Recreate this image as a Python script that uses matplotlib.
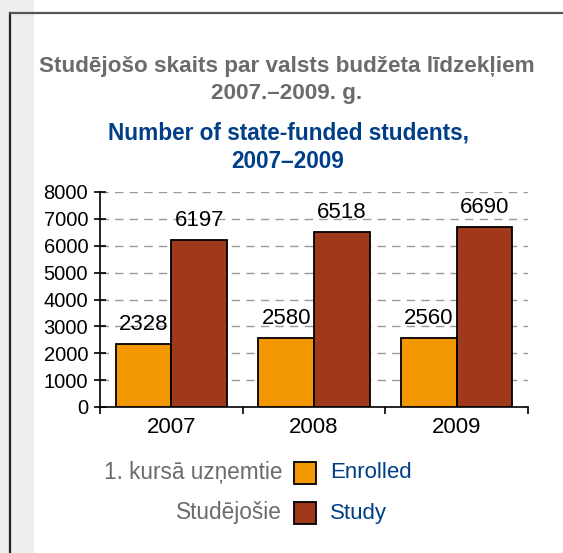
import numpy as np
import matplotlib.pyplot as plt
from matplotlib.patches import Rectangle

years = ["2007", "2008", "2009"]
enrolled = [2328, 2580, 2560]
study = [6197, 6518, 6690]
labels_lv = ["1. kursā uzņemtie", "Studējošie"]
labels_en = ["Enrolled", "Study"]

title_lv = "Studējošo skaits par valsts budžeta līdzekļiem\n2007.–2009. g."
title_en = "Number of state-funded students,\n2007–2009"

c_enr = "#f39800"
c_std = "#a0381c"
c_grey = "#6b6b6b"
c_blue = "#003f87"

plt.rcParams["font.family"] = ["Liberation Sans", "DejaVu Sans"]

fig = plt.figure(figsize=(5.63, 5.53), dpi=100)
W, H = 563, 553

# background strip and frame
fig.patches.append(Rectangle((0, 0), 34 / W, 1, transform=fig.transFigure,
                             facecolor="#efeeee", edgecolor="none", zorder=0))
fig.lines.append(plt.Line2D([9.5 / W, 9.5 / W], [0, 1 - 13 / H], transform=fig.transFigure,
                            color="#222222", lw=1.6))
fig.lines.append(plt.Line2D([9.5 / W, 1], [1 - 13 / H, 1 - 13 / H], transform=fig.transFigure,
                            color="#555555", lw=1.6))

ax = fig.add_axes([100 / W, 1 - 407 / H, 428 / W, 215 / H])
ax.set_facecolor("none")

x = np.arange(len(years))
w = 0.39
b1 = ax.bar(x - w / 2, enrolled, w, color=c_enr, edgecolor="black", lw=1.3, zorder=3)
b2 = ax.bar(x + w / 2, study, w, color=c_std, edgecolor="black", lw=1.3, zorder=3)

for bars, vals in [(b1, enrolled), (b2, study)]:
    for rect, v in zip(bars, vals):
        ax.annotate(str(v), (rect.get_x() + rect.get_width() / 2, v),
                    xytext=(0, 6.5), textcoords="offset points",
                    ha="center", va="bottom", fontsize=16)

ax.set_xlim(-0.5, 2.5)
ax.set_ylim(0, 8000)
ax.set_yticks(np.arange(0, 8001, 1000))
ax.tick_params(axis="y", labelsize=14.5, direction="inout", length=8, width=1.2, pad=4.5)
ax.set_xticks([-0.5, 0.5, 1.5, 2.5], minor=False)
ax.set_xticklabels([])
ax.set_xticks(x, minor=True)
ax.set_xticklabels(years, minor=True, fontsize=16)
ax.tick_params(axis="x", which="major", direction="out", length=5, width=1.2)
ax.tick_params(axis="x", which="minor", length=0, pad=7)

for s in ["top", "right"]:
    ax.spines[s].set_visible(False)
ax.spines["left"].set_linewidth(1.2)
ax.spines["bottom"].set_linewidth(1.2)
ax.yaxis.grid(True, linestyle=(0, (6, 4.5)), color="#999999", lw=1.0, zorder=0)
ax.set_axisbelow(True)

fig.text(287 / W, 1 - 80 / H, title_lv, ha="center", va="center", color=c_grey,
         fontsize=16.2, fontweight="bold", linespacing=1.33)
fig.text(288 / W, 1 - 147.5 / H, title_en, ha="center", va="center", color=c_blue,
         fontsize=16.3, fontweight="bold", linespacing=1.28)

# legend
for i, (lv, en, col) in enumerate(zip(labels_lv, labels_en, [c_enr, c_std])):
    yc = 473 + i * 40
    fig.text(282 / W, 1 - yc / H, lv, ha="right", va="center", color=c_grey, fontsize=16.3)
    fig.patches.append(Rectangle((294 / W, 1 - (yc + 11) / H), 22 / W, 22 / H,
                                 transform=fig.transFigure, facecolor=col,
                                 edgecolor="black", lw=1.3))
    fig.text(330 / W, 1 - yc / H, en, ha="left", va="center", color=c_blue, fontsize=16)

fig.savefig("out.png", dpi=100)
